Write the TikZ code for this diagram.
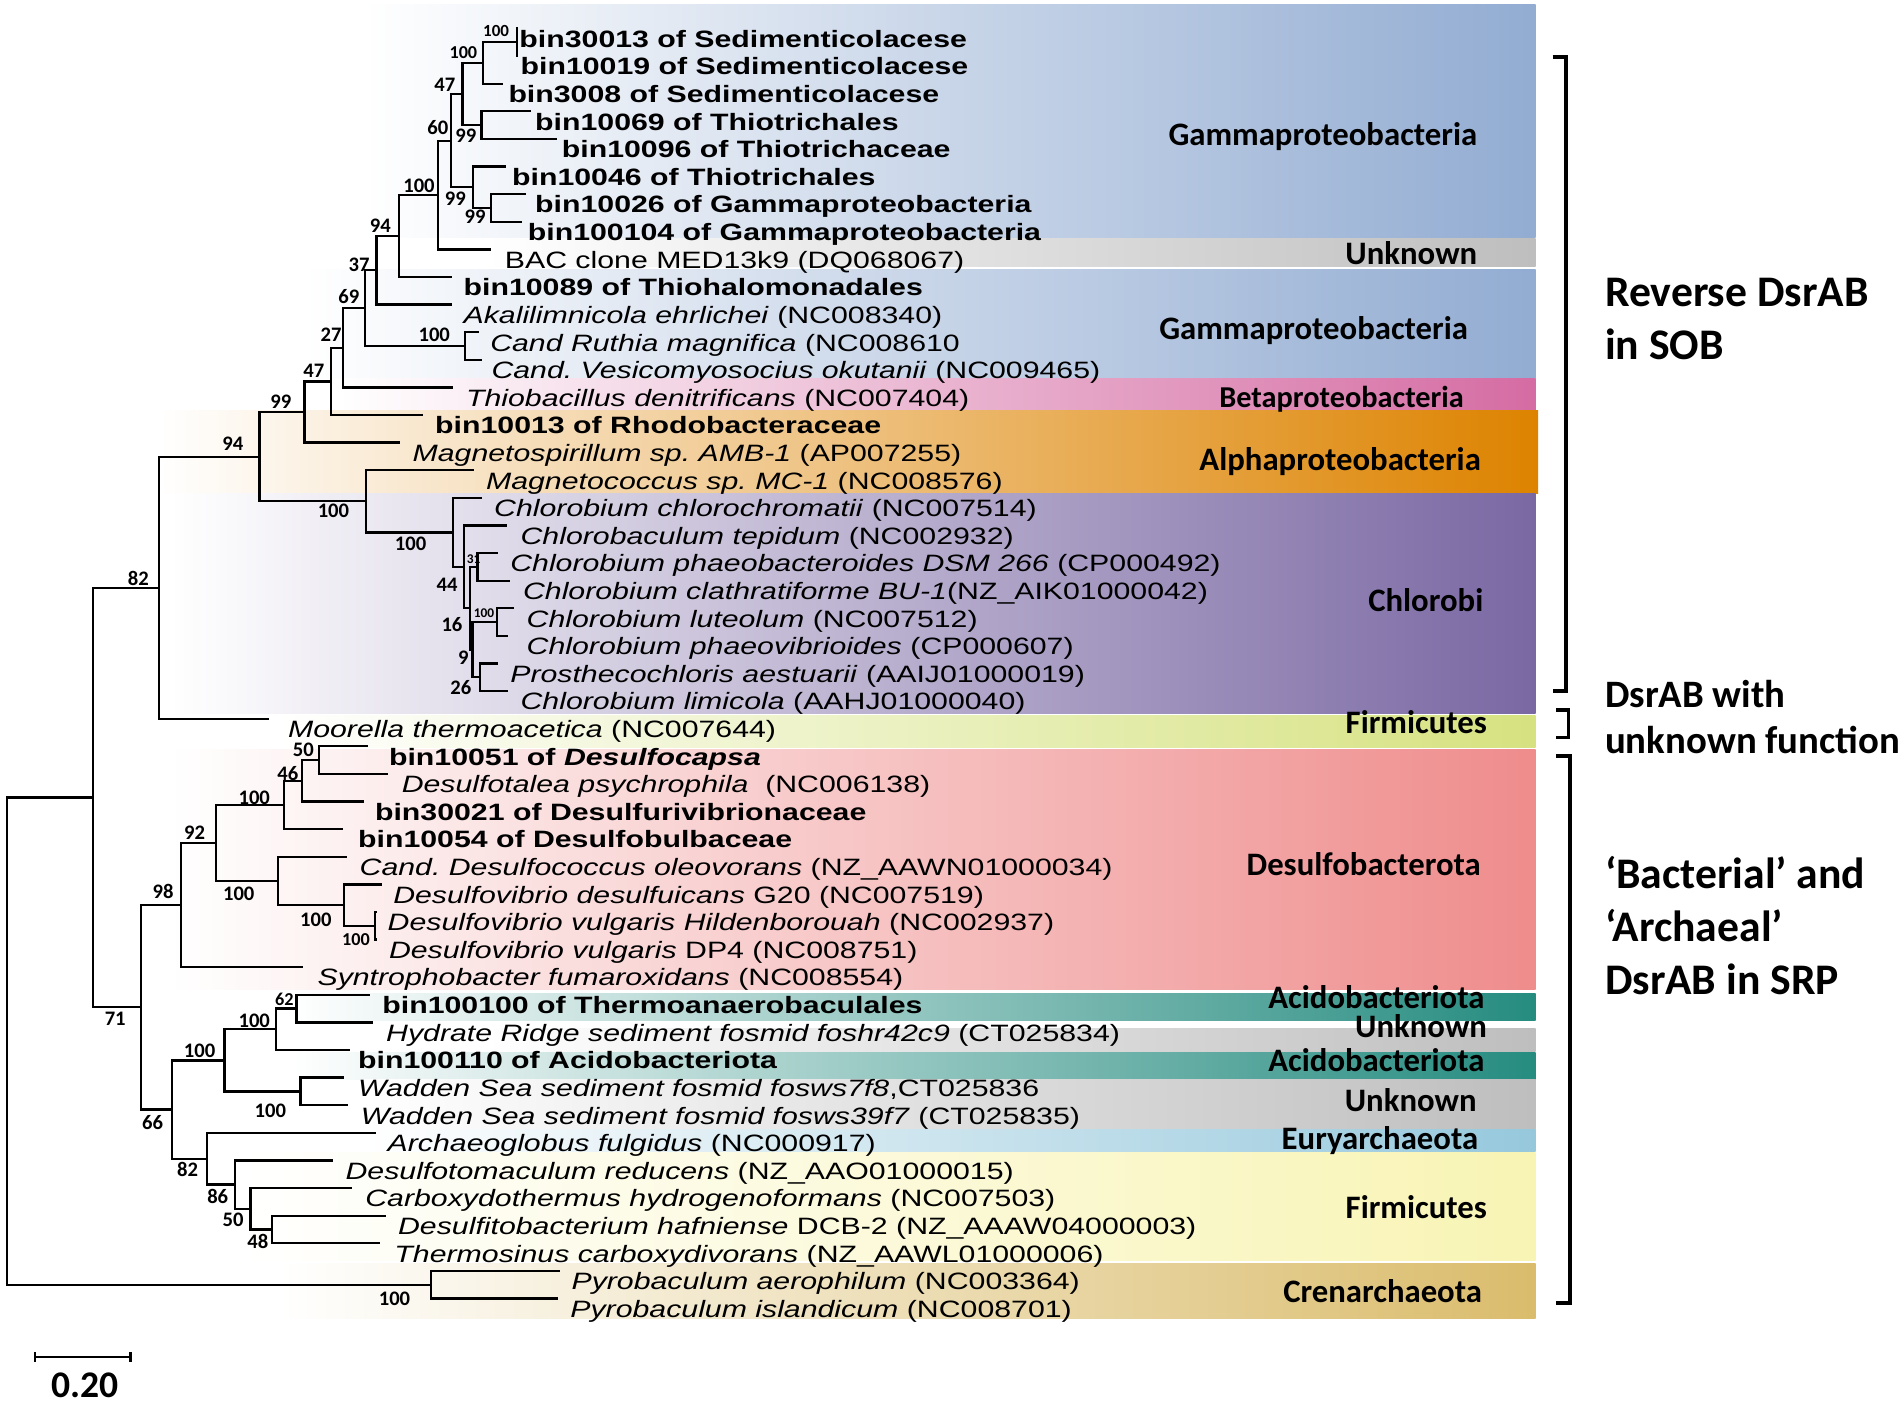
\documentclass[tikz,border=0pt]{standalone}
\usepackage{fontspec}
\newfontfamily\leaffont[FakeStretch=1.28]{Liberation Sans}
\newfontfamily\labfont{Carlito}
\definecolor{cgam}{RGB}{146,172,210}
\definecolor{cunk}{RGB}{190,190,190}
\definecolor{cbeta}{RGB}{213,108,163}
\definecolor{calpha}{RGB}{221,131,0}
\definecolor{cchl}{RGB}{122,104,163}
\definecolor{cfirma}{RGB}{214,226,128}
\definecolor{cdes}{RGB}{239,140,140}
\definecolor{cacido}{RGB}{38,140,128}
\definecolor{ceury}{RGB}{150,200,220}
\definecolor{cfirmb}{RGB}{248,244,180}
\definecolor{ccren}{RGB}{218,188,108}
\newcommand\leafat[5]{\coordinate (#1) at (#2,#3); \node[leaf] (t#1) at ({#4},{#3+15.5}) {#5};}
\newcommand\bootlab[5]{\node[bsl,font=\labfont\bfseries\fontsize{#5}{#5}\selectfont] (#1) at (#2,#3) {#4};}
\begin{document}
\frenchspacing
\begin{tikzpicture}[x=1pt,y=-1pt,
  br/.style={line width=1.9pt},
  brk/.style={line width=3.2pt},
  leaf/.style={anchor=base west, inner sep=0pt, font=\leaffont\fontsize{19.5}{22}\selectfont},
  bsl/.style={inner sep=0pt},
  clade/.style={anchor=base east, inner sep=0pt, font=\labfont\bfseries\fontsize{27}{30}\selectfont},
  side/.style={anchor=base west, inner sep=0pt, font=\labfont\bfseries\fontsize{36}{40}\selectfont},
  sidesm/.style={anchor=base west, inner sep=0pt, font=\labfont\bfseries\fontsize{32}{36}\selectfont}]
\useasboundingbox (0,0) rectangle (1568,1159);
\fill[white] (0,0) rectangle (1568,1159);
% ---------- bands
\shade[left color=white, right color=cgam] (300,3.6) rectangle (1266,195.5);
\shade[left color=white, right color=cunk] (400,196.5) rectangle (1266,220);
\shade[left color=white, right color=cgam] (250,222) rectangle (1266,312);
\shade[left color=white, right color=cbeta] (280,312) rectangle (1266,338);
\shade[left color=white, right color=calpha] (130,338) rectangle (1268,407);
\shade[left color=white, right color=cchl] (140,407) rectangle (1266,588);
\shade[left color=white, right color=cfirma] (230,590) rectangle (1266,616);
\shade[left color=white, right color=cdes] (140,618) rectangle (1266,816);
\shade[left color=white, right color=cacido] (240,819) rectangle (1266,841.5);
\shade[left color=white, right color=cunk] (400,848) rectangle (1266,867);
\shade[left color=white, right color=cacido] (240,868) rectangle (1266,890);
\shade[left color=white, right color=cunk] (300,890) rectangle (1266,931.5);
\shade[left color=white, right color=ceury] (300,931.5) rectangle (1266,949);
\shade[left color=white, right color=cfirmb] (200,950) rectangle (1266,1039.5);
\shade[left color=white, right color=ccren] (230,1042) rectangle (1266,1087);
% ---------- leaves
\leafat{L1}{427}{23.5}{428}{\textbf{bin30013 of Sedimenticolacese}}
\leafat{L2}{427}{46.26}{429}{\textbf{bin10019 of Sedimenticolacese}}
\leafat{L3}{415}{69.02}{419}{\textbf{bin3008 of Sedimenticolacese}}
\leafat{L4}{438}{91.78}{441}{\textbf{bin10069 of Thiotrichales}}
\leafat{L5}{459}{114.54}{463}{\textbf{bin10096 of Thiotrichaceae}}
\leafat{L6}{417}{137.3}{422}{\textbf{bin10046 of Thiotrichales}}
\leafat{L7}{434}{160.06}{441}{\textbf{bin10026 of Gammaproteobacteria}}
\leafat{L8}{430}{182.82}{435}{\textbf{bin100104 of Gammaproteobacteria}}
\leafat{L9}{404.5}{205.58}{416}{BAC clone MED13k9 (DQ068067)}
\leafat{L10}{373}{228.34}{382}{\textbf{bin10089 of Thiohalomonadales}}
\leafat{L11}{372.3}{251.1}{382}{\textit{Akalilimnicola ehrlichei} (NC008340)}
\leafat{L12}{395}{273.86}{404}{\textit{Cand Ruthia magnifica} (NC008610}
\leafat{L13}{397}{296.62}{405}{\textit{Cand. Vesicomyosocius okutanii} (NC009465)}
\leafat{L14}{373.2}{319.38}{384}{\textit{Thiobacillus denitrificans} (NC007404)}
\leafat{L15}{349}{342.14}{358.6}{\textbf{bin10013 of Rhodobacteraceae}}
\leafat{L16}{330}{364.9}{340}{\textit{Magnetospirillum sp. AMB-1} (AP007255)}
\leafat{L17}{390.6}{387.66}{400.5}{\textit{Magnetococcus sp. MC-1} (NC008576)}
\leafat{L18}{397}{410.42}{407.2}{\textit{Chlorobium chlorochromatii} (NC007514)}
\leafat{L19}{418}{433.18}{429}{\textit{Chlorobaculum tepidum} (NC002932)}
\leafat{L20}{410.3}{455.94}{420.5}{\textit{Chlorobium phaeobacteroides DSM 266} (CP000492)}
\leafat{L21}{420.4}{478.7}{431}{\textit{Chlorobium clathratiforme BU-1}(NZ\_AIK01000042)}
\leafat{L22}{424}{501.46}{434}{\textit{Chlorobium luteolum} (NC007512)}
\leafat{L23}{419}{524.22}{434}{\textit{Chlorobium phaeovibrioides} (CP000607)}
\leafat{L24}{410.8}{546.98}{420.5}{\textit{Prosthecochloris aestuarii} (AAIJ01000019)}
\leafat{L25}{419}{569.74}{429}{\textit{Chlorobium limicola} (AAHJ01000040)}
\leafat{L26}{222}{592.5}{237.3}{\textit{Moorella thermoacetica} (NC007644)}
\leafat{L27}{303}{615.26}{320.5}{\textbf{bin10051 of \textit{Desulfocapsa}}}
\leafat{L28}{320}{638.02}{331}{\textit{Desulfotalea psychrophila}\ \ (NC006138)}
\leafat{L29}{300}{660.78}{309}{\textbf{bin30021 of Desulfurivibrionaceae}}
\leafat{L30}{283}{683.54}{295}{\textbf{bin10054 of Desulfobulbaceae}}
\leafat{L31}{286}{706.3}{296.3}{\textit{Cand. Desulfococcus oleovorans} (NZ\_AAWN01000034)}
\leafat{L32}{315}{729.06}{324}{\textit{Desulfovibrio desulfuicans} G20 (NC007519)}
\leafat{L33}{311}{751.82}{319.4}{\textit{Desulfovibrio vulgaris Hildenborouah} (NC002937)}
\leafat{L34}{311}{774.58}{320.5}{\textit{Desulfovibrio vulgaris} DP4 (NC008751)}
\leafat{L35}{250}{797.34}{261.6}{\textit{Syntrophobacter fumaroxidans} (NC008554)}
\leafat{L36}{305}{820.1}{315}{\textbf{bin100100 of Thermoanaerobaculales}}
\leafat{L37}{307.4}{842.86}{318.2}{\textit{Hydrate Ridge sediment fosmid foshr42c9} (CT025834)}
\leafat{L38}{288.5}{865.62}{295}{\textbf{bin100110 of Acidobacteriota}}
\leafat{L39}{283.6}{888.38}{295}{\textit{Wadden Sea sediment fosmid fosws7f8},CT025836}
\leafat{L40}{286.9}{911.14}{297.4}{\textit{Wadden Sea sediment fosmid fosws39f7} (CT025835)}
\leafat{L41}{309.7}{933.9}{319.4}{\textit{Archaeoglobus fulgidus} (NC000917)}
\leafat{L42}{274.8}{956.66}{284.7}{\textit{Desulfotomaculum reducens} (NZ\_AAO01000015)}
\leafat{L43}{290}{979.42}{301}{\textit{Carboxydothermus hydrogenoformans} (NC007503)}
\leafat{L44}{317.9}{1002.18}{328}{\textit{Desulfitobacterium hafniense} DCB-2 (NZ\_AAAW04000003)}
\leafat{L45}{313}{1024.94}{325}{\textit{Thermosinus carboxydivorans} (NZ\_AAWL01000006)}
\leafat{L46}{461.3}{1047.7}{471}{\textit{Pyrobaculum aerophilum} (NC003364)}
\leafat{L47}{459.7}{1070.46}{470}{\textit{Pyrobaculum islandicum} (NC008701)}
% ---------- internal nodes
\coordinate (G1) at (426,34.88);
\coordinate (G2) at (398,51.95);
\coordinate (G4) at (397,103.16);
\coordinate (G3) at (381.4,77.56);
\coordinate (G7) at (404.5,171.44);
\coordinate (G6) at (390,154.37);
\coordinate (G5) at (372,115.96);
\coordinate (G8) at (361,160.77);
\coordinate (G9) at (329,194.56);
\coordinate (G10) at (310.5,222.83);
\coordinate (G12) at (383.5,285.24);
\coordinate (G11) at (300.9,254.04);
\coordinate (G13) at (282.5,286.71);
\coordinate (G14) at (272.6,314.43);
\coordinate (G15) at (250.9,339.67);
\coordinate (G16) at (214,376.47);
\coordinate (G17) at (301.6,413.27);
\coordinate (G18) at (373.5,438.87);
\coordinate (G19) at (382.8,467.32);
\coordinate (G20) at (387.5,501.46);
\coordinate (G21) at (393.6,467.32);
\coordinate (G22) at (389.4,535.6);
\coordinate (G23) at (410,512.84);
\coordinate (G25) at (395.8,558.36);
\coordinate (N82) at (131,484.49);
\coordinate (A) at (76.6,657.46);
\coordinate (N71) at (116.4,830.42);
\coordinate (G30) at (149.3,746.13);
\coordinate (G31) at (178,694.92);
\coordinate (G32) at (234,663.63);
\coordinate (G33) at (249,643.71);
\coordinate (G34) at (263,626.64);
\coordinate (G36) at (229,726.22);
\coordinate (G37) at (283.6,746.13);
\coordinate (G38) at (309,763.2);
\coordinate (G40) at (141.8,914.7);
\coordinate (G41) at (185,874.16);
\coordinate (G43) at (227.5,848.55);
\coordinate (G48) at (244.5,831.48);
\coordinate (G44) at (247.8,899.76);
\coordinate (G42) at (170.5,955.24);
\coordinate (G45) at (194,976.58);
\coordinate (G46) at (206.4,996.49);
\coordinate (G47) at (224,1013.56);
\coordinate (G50) at (355.3,1059.08);
\coordinate (R) at (6,858.27);
% ---------- branches
\draw[br] (G1) |- (L1) (G1) |- (L2);
\draw[br] (G2) |- (G1) (G2) |- (L3);
\draw[br] (G4) |- (L4) (G4) |- (L5);
\draw[br] (G3) |- (G2) (G3) |- (G4);
\draw[br] (G7) |- (L7) (G7) |- (L8);
\draw[br] (G6) |- (L6) (G6) |- (G7);
\draw[br] (G5) |- (G3) (G5) |- (G6);
\draw[br] (G8) |- (G5) (G8) |- (L9);
\draw[br] (G9) |- (G8) (G9) |- (L10);
\draw[br] (G10) |- (G9) (G10) |- (L11);
\draw[br] (G12) |- (L12) (G12) |- (L13);
\draw[br] (G11) |- (G10) (G11) |- (G12);
\draw[br] (G13) |- (G11) (G13) |- (L14);
\draw[br] (G14) |- (G13) (G14) |- (L15);
\draw[br] (G15) |- (G14) (G15) |- (L16);
\draw[br] (G21) |- (L20) (G21) |- (L21);
\draw[br] (G23) |- (L22) (G23) |- (L23);
\draw[br] (G25) |- (L24) (G25) |- (L25);
\draw[br] (G22) |- (G23) (G22) |- (G25);
\draw[br] (G20) |- (G21) (G20) |- (G22);
\draw[br] (G19) |- (L19) (G19) |- (G20);
\draw[br] (G18) |- (L18) (G18) |- (G19);
\draw[br] (G17) |- (L17) (G17) |- (G18);
\draw[br] (G16) |- (G15) (G16) |- (G17);
\draw[br] (N82) |- (G16) (N82) |- (L26);
\draw[br] (G34) |- (L27) (G34) |- (L28);
\draw[br] (G33) |- (G34) (G33) |- (L29);
\draw[br] (G32) |- (G33) (G32) |- (L30);
\draw[br] (G38) |- (L33) (G38) |- (L34);
\draw[br] (G37) |- (L32) (G37) |- (G38);
\draw[br] (G36) |- (L31) (G36) |- (G37);
\draw[br] (G31) |- (G32) (G31) |- (G36);
\draw[br] (G30) |- (G31) (G30) |- (L35);
\draw[br] (G48) |- (L36) (G48) |- (L37);
\draw[br] (G43) |- (G48) (G43) |- (L38);
\draw[br] (G44) |- (L39) (G44) |- (L40);
\draw[br] (G41) |- (G43) (G41) |- (G44);
\draw[br] (G47) |- (L44) (G47) |- (L45);
\draw[br] (G46) |- (L43) (G46) |- (G47);
\draw[br] (G45) |- (L42) (G45) |- (G46);
\draw[br] (G42) |- (L41) (G42) |- (G45);
\draw[br] (G40) |- (G41) (G40) |- (G42);
\draw[br] (N71) |- (G30) (N71) |- (G40);
\draw[br] (A) |- (N82) (A) |- (N71);
\draw[br] (G50) |- (L46) (G50) |- (L47);
\draw[br] (R) |- (A) (R) |- (G50);
% ---------- bootstrap values
\bootlab{b1}{409}{25.4}{100}{14}
\bootlab{b2}{382}{43.7}{100}{15}
\bootlab{b3}{366.8}{69.8}{47}{17}
\bootlab{b4}{384}{112}{99}{17}
\bootlab{b5}{361}{105}{60}{17}
\bootlab{b6}{375.4}{163.5}{99}{17}
\bootlab{b7}{391.6}{179}{99}{17}
\bootlab{b8}{345.4}{153}{100}{17}
\bootlab{b9}{313.6}{186}{94}{17}
\bootlab{b10}{296}{218}{37}{17}
\bootlab{b11}{287.6}{244.6}{69}{17}
\bootlab{b12}{358}{276}{100}{17}
\bootlab{b13}{273}{276}{27}{17}
\bootlab{b14}{258.7}{306}{47}{17}
\bootlab{b15}{231.5}{331}{99}{17}
\bootlab{b16}{192}{366}{94}{17}
\bootlab{b17}{274.9}{421}{100}{17}
\bootlab{b18}{338.5}{448}{100}{17}
\bootlab{b21}{390.5}{461}{31}{11}
\bootlab{b19}{368.5}{482}{44}{17}
\bootlab{b23}{399}{505.5}{100}{11}
\bootlab{b20}{372.6}{515}{16}{17}
\bootlab{b22}{382}{542}{9}{17}
\bootlab{b25}{380}{566.8}{26}{17}
\bootlab{b82}{114}{476.6}{82}{17}
\bootlab{b34}{250}{618}{50}{17}
\bootlab{b33}{237.3}{638}{46}{17}
\bootlab{b32}{209.6}{657.6}{100}{17}
\bootlab{b31}{160.4}{686.6}{92}{17}
\bootlab{b36}{196.8}{736.6}{100}{17}
\bootlab{b30}{134.4}{734.6}{98}{17}
\bootlab{b37}{260.4}{758}{100}{17}
\bootlab{b38}{293.4}{775}{100}{15}
\bootlab{b71}{95}{839.6}{71}{17}
\bootlab{b48}{234.4}{824}{62}{15}
\bootlab{b43}{209.6}{841.8}{100}{17}
\bootlab{b41}{164.5}{866.4}{100}{17}
\bootlab{b44}{222.9}{915.8}{100}{17}
\bootlab{b40}{125.8}{925}{66}{17}
\bootlab{b42}{154.7}{963.7}{82}{17}
\bootlab{b45}{179.5}{986}{86}{17}
\bootlab{b46}{192.2}{1006}{50}{17}
\bootlab{b47}{212.5}{1023.6}{48}{17}
\bootlab{b50}{325.2}{1071}{100}{17}
% ---------- clade labels
\node[clade] (c1) at (1218,120) {Gammaproteobacteria};
\node[clade] (c2) at (1218,218) {Unknown};
\node[clade] (c3) at (1210.4,279.5) {Gammaproteobacteria};
\node[clade,font=\labfont\bfseries\fontsize{25}{28}\selectfont] (c4) at (1207,336) {Betaproteobacteria};
\node[clade] (c5) at (1221,387.7) {Alphaproteobacteria};
\node[clade] (c6) at (1223,504) {Chlorobi};
\node[clade] (c7) at (1226,605) {Firmicutes};
\node[clade] (c8) at (1221,721.8) {Desulfobacterota};
\node[clade] (c9) at (1224,831) {Acidobacteriota};
\node[clade] (c10) at (1226,855.3) {Unknown};
\node[clade] (c11) at (1224,883) {Acidobacteriota};
\node[clade] (c12) at (1217.5,916.5) {Unknown};
\node[clade] (c13) at (1218.8,948) {Euryarchaeota};
\node[clade] (c14) at (1226,1004.7) {Firmicutes};
\node[clade] (c15) at (1222,1074) {Crenarchaeota};
% ---------- brackets and side texts
\draw[brk] (1280,47) -- (1291,47) -- (1291,570) -- (1280,570);
\draw[brk] (1283,585) -- (1293,585) -- (1293,608) -- (1283,608);
\draw[brk] (1283,623.5) -- (1294,623.5) -- (1294,1074) -- (1283,1074);
\node[side] (s1) at (1323,252.5) {Reverse DsrAB};
\node[side] (s2) at (1323,296.5) {in SOB};
\node[sidesm] (s3) at (1323,583.5) {DsrAB with};
\node[sidesm] (s4) at (1323,621.5) {unknown function};
\node[side] (s5) at (1323,732.5) {‘Bacterial’ and};
\node[side] (s6) at (1323,776.5) {‘Archaeal’};
\node[side] (s7) at (1323,819.5) {DsrAB in SRP};
% ---------- scale bar
\coordinate (sb1) at (28.7,1118.7);
\coordinate (sb2) at (107.6,1118.7);
\draw[br] (sb1) -- (sb2);
\draw[br] ([yshift=4pt]sb1) -- ([yshift=-4pt]sb1);
\draw[br] ([yshift=4pt]sb2) -- ([yshift=-4pt]sb2);
\node[inner sep=0pt,font=\labfont\bfseries\fontsize{31}{34}\selectfont] (sbl) at (70,1142) {0.20};
\end{tikzpicture}
\end{document}
